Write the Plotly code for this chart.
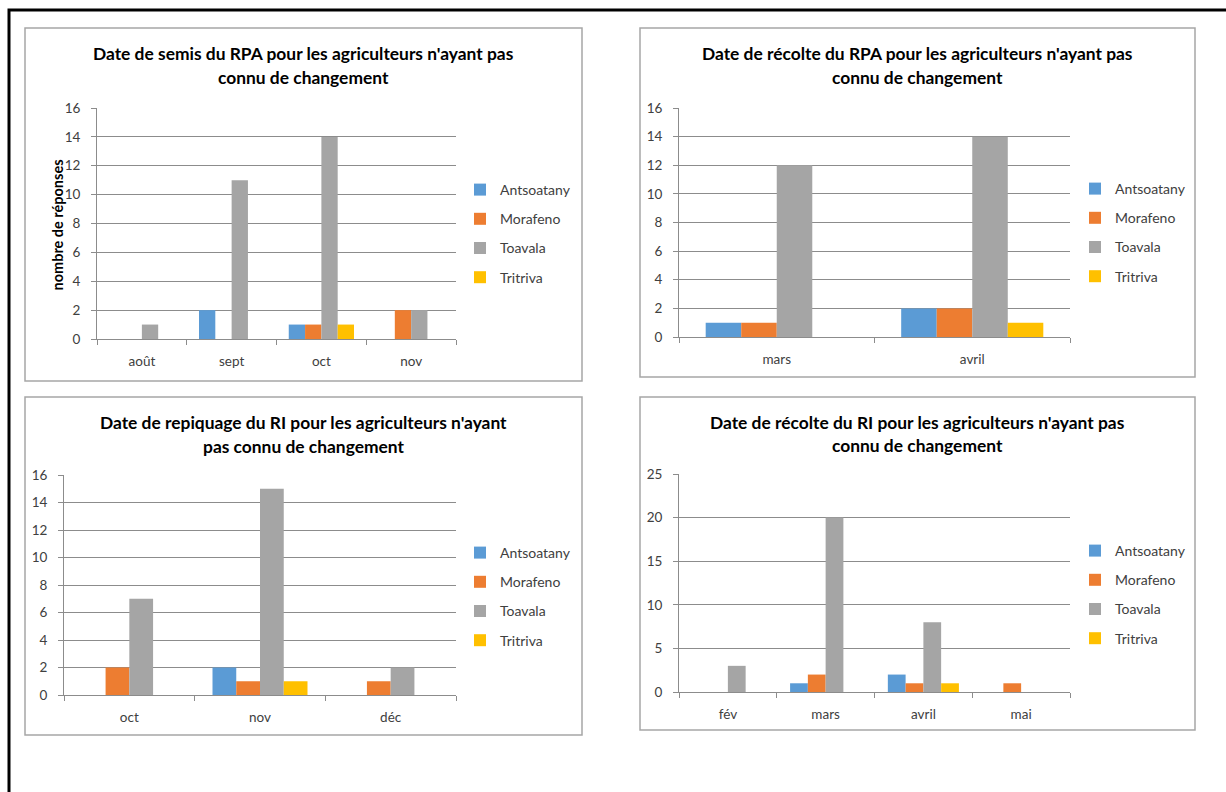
import plotly.graph_objects as go

W, H = 1226, 792

# --- data -------------------------------------------------------------
sites = ["Antsoatany", "Morafeno", "Toavala", "Tritriva"]
colors = ["#5B9BD5", "#ED7D31", "#A5A5A5", "#FFC000"]

semis_rpa_months = ["août", "sept", "oct", "nov"]
semis_rpa_antsoatany = [0, 2, 1, 0]
semis_rpa_morafeno = [0, 0, 1, 2]
semis_rpa_toavala = [1, 11, 14, 2]
semis_rpa_tritriva = [0, 0, 1, 0]

recolte_rpa_months = ["mars", "avril"]
recolte_rpa_antsoatany = [1, 2]
recolte_rpa_morafeno = [1, 2]
recolte_rpa_toavala = [12, 14]
recolte_rpa_tritriva = [0, 1]

repiquage_ri_months = ["oct", "nov", "déc"]
repiquage_ri_antsoatany = [0, 2, 0]
repiquage_ri_morafeno = [2, 1, 1]
repiquage_ri_toavala = [7, 15, 2]
repiquage_ri_tritriva = [0, 1, 0]

recolte_ri_months = ["fév", "mars", "avril", "mai"]
recolte_ri_antsoatany = [0, 1, 2, 0]
recolte_ri_morafeno = [0, 2, 1, 1]
recolte_ri_toavala = [3, 20, 8, 0]
recolte_ri_tritriva = [0, 0, 1, 0]

FONT = "Lato"
TXT = "#404040"
GRID = "#8C8C8C"

# vertical page layout: usable band starts 8 px down and is 776 px tall
TOP, SPAN = 8, 776


def px_x(v):
    return v / W


def px_y(v):
    return 1 - (v - TOP) / SPAN


panels = [
    dict(months=semis_rpa_months,
         series=[semis_rpa_antsoatany, semis_rpa_morafeno, semis_rpa_toavala, semis_rpa_tritriva],
         title=["Date de semis du RPA pour les agriculteurs n'ayant pas", "connu de changement"],
         box=(25, 28, 582, 381), plot=(97, 108, 456, 339), ymax=16, dtick=2,
         legend=(460, 174), ytitle="nombre de réponses", title_y=(53, 77)),
    dict(months=recolte_rpa_months,
         series=[recolte_rpa_antsoatany, recolte_rpa_morafeno, recolte_rpa_toavala, recolte_rpa_tritriva],
         title=["Date de récolte du RPA pour les agriculteurs n'ayant pas", "connu de changement"],
         box=(640, 28, 1195, 377), plot=(679, 108, 1070, 337), ymax=16, dtick=2,
         legend=(1075, 173), ytitle=None, title_y=(53, 77)),
    dict(months=repiquage_ri_months,
         series=[repiquage_ri_antsoatany, repiquage_ri_morafeno, repiquage_ri_toavala, repiquage_ri_tritriva],
         title=["Date de repiquage du RI pour les agriculteurs n'ayant", "pas connu de changement"],
         box=(25, 397, 582, 735), plot=(64, 475, 456, 695), ymax=16, dtick=2,
         legend=(460, 537), ytitle=None, title_y=(422, 446)),
    dict(months=recolte_ri_months,
         series=[recolte_ri_antsoatany, recolte_ri_morafeno, recolte_ri_toavala, recolte_ri_tritriva],
         title=["Date de récolte du RI pour les agriculteurs n'ayant pas", "connu de changement"],
         box=(640, 397, 1195, 730), plot=(679, 474, 1070, 692), ymax=25, dtick=5,
         legend=(1075, 535), ytitle=None, title_y=(422, 445)),
]

fig = go.Figure()
shapes = []
annotations = []
layout_extra = {}

for i, p in enumerate(panels):
    n = "" if i == 0 else str(i + 1)
    xa, ya = "x" + n, "y" + n
    leg = "legend" if i == 0 else "legend" + str(i + 1)
    for j, (name, col) in enumerate(zip(sites, colors)):
        fig.add_trace(go.Bar(
            x=p["months"], y=p["series"][j], name=name,
            marker=dict(color=col, line=dict(width=0)),
            xaxis=xa, yaxis=ya, legend=leg, legendgroup=f"{i}-{name}",
            offsetgroup=str(j),
        ))

    x0, y0, x1, y1 = p["plot"]
    layout_extra["xaxis" + n] = dict(
        domain=[px_x(x0), px_x(x1)], anchor=ya, type="category",
        showline=True, linecolor=GRID, linewidth=1,
        ticks="outside", ticklen=5, tickcolor=GRID, tickson="boundaries",
        ticklabelstandoff=10,
        tickfont=dict(family=FONT, size=13.5, color=TXT), showgrid=False,
        fixedrange=True,
    )
    layout_extra["yaxis" + n] = dict(
        domain=[px_y(y1), px_y(y0)], anchor=xa,
        range=[0, p["ymax"]], dtick=p["dtick"], tick0=0,
        showline=True, linecolor=GRID, linewidth=1,
        ticks="outside", ticklen=5, tickcolor=GRID, ticklabelstandoff=8,
        showgrid=True, gridcolor=GRID, gridwidth=1, zeroline=False,
        tickfont=dict(family=FONT, size=13.5, color=TXT),
    )
    if p["ytitle"]:
        annotations.append(dict(
            text="<b>" + p["ytitle"] + "</b>", xref="paper", yref="paper",
            x=px_x(57), y=px_y((y0 + y1) / 2 + 2), xanchor="center", yanchor="middle",
            textangle=-90, showarrow=False,
            font=dict(family=FONT, size=14.5, color="#000000"),
        ))

    lx, ly = p["legend"]
    layout_extra[leg] = dict(
        x=px_x(lx), y=px_y(ly), xanchor="left", yanchor="top",
        font=dict(family=FONT, size=14, color=TXT),
        tracegroupgap=8, itemwidth=30, bgcolor="rgba(0,0,0,0)",
        traceorder="grouped",
    )

    bx0, by0, bx1, by1 = p["box"]
    shapes.append(dict(type="rect", xref="paper", yref="paper",
                       x0=px_x(bx0), x1=px_x(bx1), y0=px_y(by1), y1=px_y(by0),
                       line=dict(color="#A6A6A6", width=1.5), layer="below"))
    cx = (bx0 + bx1) / 2
    for line_txt, ty in zip(p["title"], p["title_y"]):
        annotations.append(dict(
            text="<b>" + line_txt + "</b>", xref="paper", yref="paper",
            x=px_x(cx), y=px_y(ty), xanchor="center", yanchor="middle",
            showarrow=False, font=dict(family=FONT, size=17.4, color="#000000"),
        ))

# outer frame (top and left edges)
shapes.append(dict(type="path", xref="paper", yref="paper",
                   path=f"M {px_x(9)},{px_y(800)} L {px_x(9)},{px_y(10)} L {px_x(1226)},{px_y(10)}",
                   line=dict(color="#000000", width=3)))

fig.update_layout(
    width=W, height=H, margin=dict(l=0, r=0, t=0, b=0),
    paper_bgcolor="white", plot_bgcolor="white",
    barmode="group", bargap=0.273, bargroupgap=0,
    shapes=shapes, annotations=annotations, showlegend=True,
    **layout_extra,
)

fig.write_html("out.html")
